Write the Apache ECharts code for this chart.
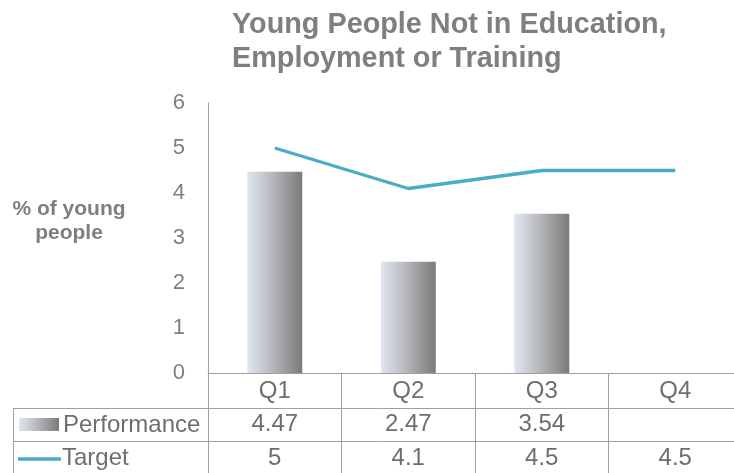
<!DOCTYPE html>
<html>
<head>
<meta charset="utf-8">
<script src="https://cdn.jsdelivr.net/npm/echarts@6/dist/echarts.min.js"></script>
<style>
  html, body { margin: 0; padding: 0; background: #fff; overflow: hidden; }
  #chart { width: 750px; height: 473px; }
</style>
</head>
<body>
<div id="chart"></div>
<script>
// Quarterly NEET figures: performance bars against the target line
const quarters = ['Q1', 'Q2', 'Q3', 'Q4'];
const performance = [4.47, 2.47, 3.54, null];
const target = [5, 4.1, 4.5, 4.5];
const yTicks = [0, 1, 2, 3, 4, 5, 6];

const gridColor = '#a0a0a0';
const textColor = '#6e6e6e';
const font = '"Liberation Sans", Arial, sans-serif';

function barGradient() {
  return new echarts.graphic.LinearGradient(0, 0, 1, 0, [
    { offset: 0, color: '#e0e7f3' },
    { offset: 0.5, color: '#b2b3b6' },
    { offset: 1, color: '#7a7a7a' }
  ]);
}

const chart = echarts.init(document.getElementById('chart'), null, { renderer: 'canvas' });

// extra category axes act as the rows of the data table under the plot
const tableAxis = (values, offset) => ({
  type: 'category',
  data: values.map(v => (v === null ? '' : String(v))),
  position: 'bottom',
  offset: offset,
  gridIndex: 0,
  axisLine: { show: false },
  axisTick: { show: false },
  axisLabel: { fontSize: 24, color: textColor, fontFamily: font, margin: 6 }
});

chart.setOption({
  animation: false,
  backgroundColor: '#ffffff',
  title: {
    text: 'Young People Not in Education,\nEmployment or Training',
    left: 232,
    top: 8,
    padding: 0,
    textStyle: {
      fontSize: 28.8,
      fontWeight: 'bold',
      color: '#7f7f7f',
      fontFamily: font,
      lineHeight: 34
    }
  },
  grid: { left: 208, right: 8, top: 103, bottom: 100, containLabel: false },
  xAxis: [
    {
      type: 'category',
      data: quarters,
      position: 'bottom',
      axisLine: { show: true, lineStyle: { color: gridColor, width: 1 } },
      axisTick: { show: true, length: 100, inside: false, lineStyle: { color: gridColor, width: 1 } },
      axisLabel: { fontSize: 24, color: textColor, fontFamily: font, margin: 6 }
    },
    tableAxis(performance, 33),
    tableAxis(target, 67)
  ],
  yAxis: {
    type: 'value',
    min: yTicks[0],
    max: yTicks[yTicks.length - 1],
    interval: 1,
    axisLine: { show: true, lineStyle: { color: gridColor, width: 1 } },
    axisTick: { show: false },
    splitLine: { show: false },
    axisLabel: { fontSize: 22, color: '#7f7f7f', fontFamily: font, margin: 23 }
  },
  series: [
    {
      name: 'Performance',
      type: 'bar',
      data: performance,
      barWidth: 55,
      itemStyle: { color: barGradient() }
    },
    {
      name: 'Target',
      type: 'line',
      data: target,
      symbol: 'none',
      lineStyle: { color: '#4bacc6', width: 3.3 },
      itemStyle: { color: '#4bacc6' }
    }
  ],
  graphic: [
    // axis title
    { type: 'text', x: 69, y: 197, style: {
      text: '% of young\npeople', fontSize: 21, fontWeight: 'bold', fill: '#7f7f7f',
      fontFamily: font, align: 'center', verticalAlign: 'top', lineHeight: 24
    } },
    // data-table row rules and left border
    { type: 'line', shape: { x1: 13, y1: 408.5, x2: 750, y2: 408.5 }, style: { stroke: gridColor, lineWidth: 1 } },
    { type: 'line', shape: { x1: 13, y1: 441.5, x2: 750, y2: 441.5 }, style: { stroke: gridColor, lineWidth: 1 } },
    { type: 'line', shape: { x1: 13.5, y1: 408, x2: 13.5, y2: 473 }, style: { stroke: gridColor, lineWidth: 1 } },
    // legend keys inside the table
    { type: 'rect', shape: { x: 19, y: 418, width: 40, height: 13 }, style: { fill: barGradient() } },
    { type: 'line', shape: { x1: 18, y1: 459, x2: 61, y2: 459 }, style: { stroke: '#4bacc6', lineWidth: 3.3 } },
    { type: 'text', x: 63, y: 425, style: { text: 'Performance', fontSize: 24, fill: textColor, fontFamily: font, verticalAlign: 'middle' } },
    { type: 'text', x: 62, y: 458, style: { text: 'Target', fontSize: 24, fill: textColor, fontFamily: font, verticalAlign: 'middle' } }
  ]
});
</script>
</body>
</html>
